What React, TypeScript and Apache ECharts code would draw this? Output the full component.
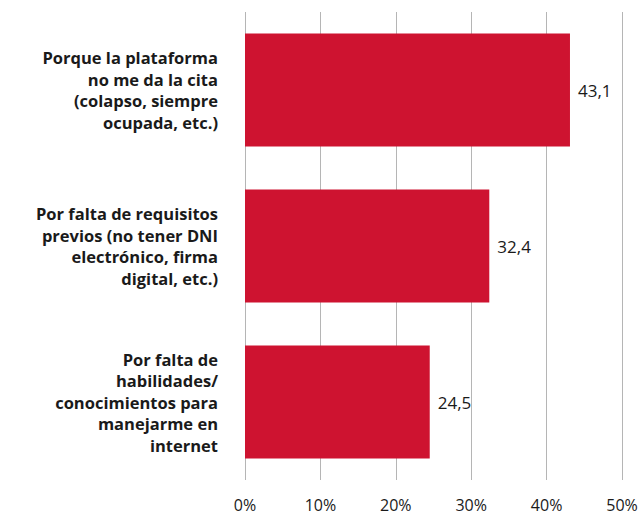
import React, { useEffect, useRef } from "react";
import * as echarts from "echarts";

const categories = [
  "Porque la plataforma\nno me da la cita\n(colapso, siempre\nocupada, etc.)",
  "Por falta de requisitos\nprevios (no tener DNI\nelectrónico, firma\ndigital, etc.)",
  "Por falta de\nhabilidades/\nconocimientos para\nmanejarme en\ninternet",
];
const values = [43.1, 32.4, 24.5];
const xTicks = [0, 10, 20, 30, 40, 50];

const FONT = "'Open Sans', Lato, sans-serif";

export default function App() {
  const ref = useRef<HTMLDivElement>(null);
  useEffect(() => {
    document.body.style.margin = "0";
    const chart = echarts.init(ref.current!, null, { renderer: "svg" });
    chart.setOption({
      animation: false,
      grid: { left: 245, right: 21, top: 12, bottom: 40, containLabel: false },
      xAxis: {
        type: "value",
        min: xTicks[0],
        max: xTicks[xTicks.length - 1],
        interval: 10,
        axisLine: { show: false },
        axisTick: { show: false },
        splitLine: { show: true, lineStyle: { color: "#b5b5b5", width: 1 } },
        axisLabel: {
          formatter: (v: number) => `${v}%`,
          color: "#1a1a1a",
          fontSize: 16,
          fontFamily: FONT,
          margin: 17,
        },
      },
      yAxis: {
        type: "category",
        data: categories,
        inverse: true,
        axisLine: { show: false },
        axisTick: { show: false },
        axisLabel: {
          color: "#1a1a1a",
          fontSize: 16.5,
          fontWeight: "bold",
          fontFamily: FONT,
          lineHeight: 21.5,
          align: "right",
          margin: 27,
        },
      },
      series: [
        {
          type: "bar",
          data: values,
          barCategoryGap: "27.5%",
          itemStyle: { color: "#CE1330" },
          label: {
            show: true,
            position: "right",
            distance: 8,
            color: "#1a1a1a",
            fontSize: 17,
            fontFamily: FONT,
            formatter: (p: any) => String(p.value).replace(".", ","),
          },
        },
      ],
    });
    return () => chart.dispose();
  }, []);
  return <div ref={ref} style={{ width: 643, height: 520 }} />;
}
